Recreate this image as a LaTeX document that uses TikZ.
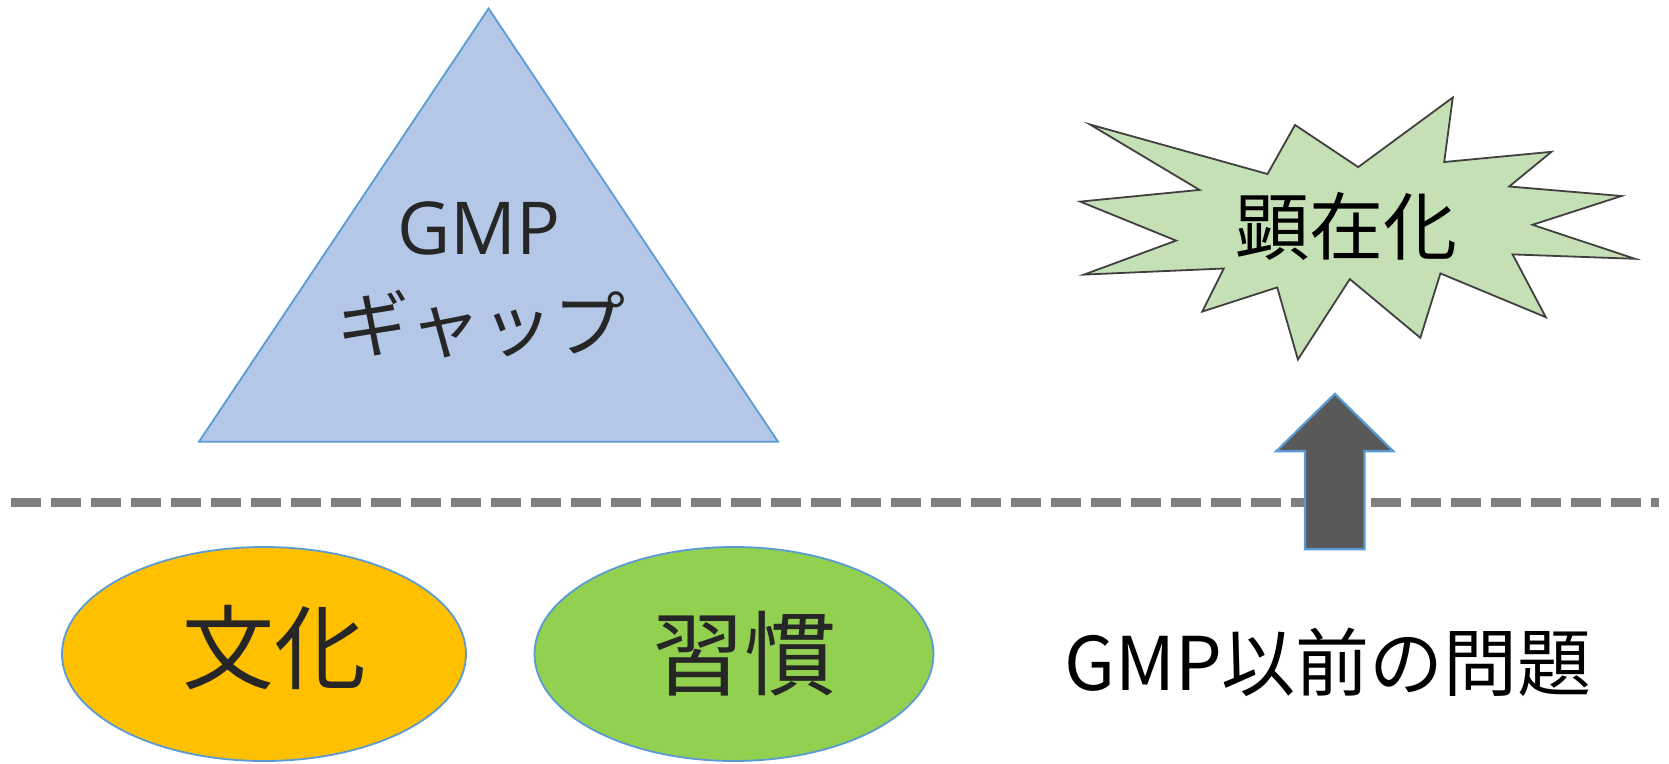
\documentclass[tikz,border=0pt]{standalone}
\usepackage{fontspec}
\setmainfont{Noto Sans CJK JP}
\newfontfamily\latinfont{Open Sans}
\usetikzlibrary{shapes.geometric}
\definecolor{tribg}{HTML}{B4C7E7}
\definecolor{blueline}{HTML}{5B9BD5}
\definecolor{burstbg}{HTML}{C5E0B4}
\definecolor{burstline}{HTML}{404040}
\definecolor{orangebg}{HTML}{FFC000}
\definecolor{greenbg}{HTML}{92D050}
\definecolor{arrowbg}{HTML}{595959}
\definecolor{dashgray}{HTML}{7F7F7F}
\definecolor{txtdark}{HTML}{262626}
\begin{document}
\begin{tikzpicture}[x=1pt,y=-1pt,
  lbl/.style={inner sep=0pt, align=center},
  oval/.style={ellipse, draw=blueline, line width=1.8pt, minimum width=404pt, minimum height=214pt, inner sep=0pt},
  sepline/.style={draw=dashgray, line width=9pt, dash pattern=on 30pt off 10pt}
]
\useasboundingbox (0,0) rectangle (1669,763);
\fill[white] (0,0) rectangle (1669,763);

% triangle
\coordinate (tA) at (488.6,8.5);
\coordinate (tB) at (199,441.7);
\coordinate (tC) at (778,441.7);
\draw[fill=tribg, draw=blueline, line width=1.8pt, line join=miter] (tA) -- (tB) -- (tC) -- cycle;
\node[lbl, text=txtdark, font=\latinfont\fontsize{73}{73}\selectfont] (gmp) at (478.5,228) {GMP};
\node[lbl, text=txtdark, font=\fontsize{72}{72}\selectfont] (gap) at (481,324) {ギャップ};

% separator
\coordinate (sL) at (10.6,502.4);
\coordinate (sR) at (1659,502.4);
\draw[sepline] (sL) -- (sR);

% starburst
\draw[fill=burstbg, draw=burstline, line width=1.8pt, line join=miter]
  (1090,124.5) -- (1267.5,174) -- (1295,125) -- (1358.2,167.1) -- (1452.8,97.5)
  -- (1444.2,162) -- (1551.5,151.8) -- (1509.2,186.5) -- (1621.5,196) -- (1532.5,224.8)
  -- (1635,258.8) -- (1512.6,254.4) -- (1545.8,317.2) -- (1440.4,273.4) -- (1420.3,337.8)
  -- (1349.8,279.1) -- (1297.9,359.5) -- (1277.2,287.4) -- (1202.2,311.6) -- (1223.8,268.5)
  -- (1084,274.6) -- (1176.1,240.6) -- (1080.2,201.6) -- (1199.5,189.9) -- cycle;
\node[lbl, text=black, font=\fontsize{74}{74}\selectfont] (kenzai) at (1346,226) {顕在化};

% block arrow
\draw[fill=arrowbg, draw=blueline, line width=2.2pt, line join=miter]
  (1334.8,393.8) -- (1393.3,451.3) -- (1364.5,451.3) -- (1364.5,549.2)
  -- (1304.9,549.2) -- (1304.9,451.3) -- (1276.2,451.3) -- cycle;

% ellipses
\node[oval, fill=orangebg] (bunka) at (264,654) {};
\node[oval, fill=greenbg, minimum width=399pt] (shukan) at (734,654) {};
\node[lbl, text=txtdark, font=\fontsize{92}{92}\selectfont] (bunkat) at (274,648) {文化};
\node[lbl, text=txtdark, font=\fontsize{92}{92}\selectfont] (shukant) at (744,654) {習慣};

% bottom label
\node[lbl, text=black, font=\fontsize{74}{74}\selectfont] (mondai) at (1328,662) {GMP以前の問題};
\end{tikzpicture}
\end{document}
